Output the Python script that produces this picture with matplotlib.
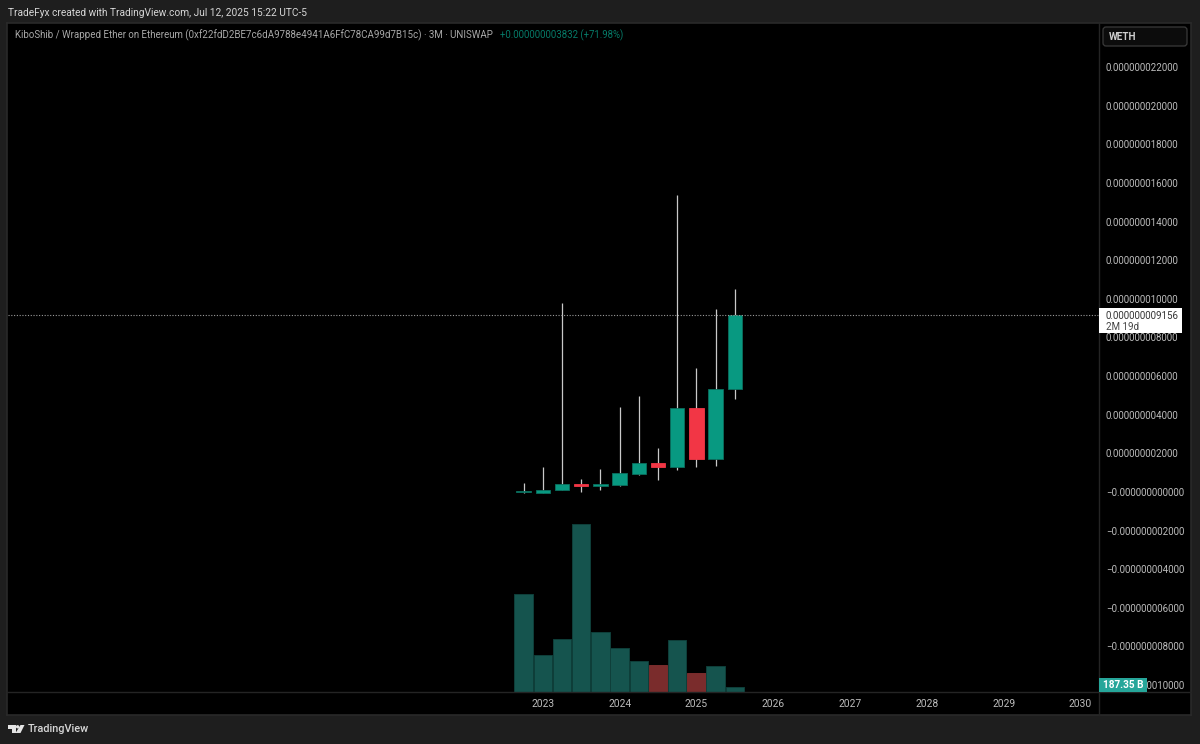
import matplotlib
matplotlib.use("Agg")
import matplotlib.pyplot as plt
from matplotlib.patches import Rectangle, FancyBboxPatch, Polygon, Circle
from matplotlib.ticker import FixedLocator, FixedFormatter

W, H = 1200, 744
BG = "#1e1e1e"
BORDER = "#2a2a2a"
DIVIDER = "#242424"
TXT = "#bcbcbc"
UP = "#089981"
DOWN = "#f23645"
VOL_UP = "#15544e"
VOL_DOWN = "#7a2c2c"

# values in units of 1e-9 WETH, per quarter
opens = [-0.02, -0.04, 0.08, 0.41, 0.31, 0.37, 0.94, 1.50, 1.31, 4.34, 1.72, 5.324]
closes = [0.00, 0.11, 0.41, 0.31, 0.41, 0.96, 1.48, 1.31, 4.34, 1.72, 5.324, 9.156]
highs = [0.45, 1.29, 9.77, 0.67, 1.19, 4.40, 4.97, 2.27, 15.37, 6.42, 9.46, 10.49]
lows = [-0.04, -0.04, 0.08, -0.01, 0.08, 0.32, 0.89, 0.62, 1.13, 1.31, 1.34, 4.80]
# volume in billions, with the colour direction as shown in the volume pane
volumes = [4350, 1640, 2340, 7450, 2640, 1940, 1370, 1180, 2300, 825, 1150, 187.35]
volume_up = [True, True, True, True, True, True, True, False, True, False, True, True]

price_ticks = [22, 20, 18, 16, 14, 12, 10, 8, 6, 4, 2, 0, -2, -4, -6, -8, -10]
price_labels = ["0.000000022000", "0.000000020000", "0.000000018000", "0.000000016000",
                "0.000000014000", "0.000000012000", "0.000000010000", "0.000000008000",
                "0.000000006000", "0.000000004000", "0.000000002000", "\u22120.000000000000",
                "\u22120.000000002000", "\u22120.000000004000", "\u22120.000000006000",
                "\u22120.000000008000", "\u22120.000000010000"]
year_ticks = [1, 5, 9, 13, 17, 21, 25, 29]
year_labels = ["2023", "2024", "2025", "2026", "2027", "2028", "2029", "2030"]
title_text = "KiboShib / Wrapped Ether on Ethereum (0xf22fdD2BE7c6dA9788e4941A6FfC78CA99d7B15c) \u00b7 3M \u00b7 UNISWAP"
change_text = "+0.000000003832 (+71.98%)"
header_text = "TradeFyx created with TradingView.com, Jul 12, 2025 15:22 UTC-5"

plt.rcParams["font.family"] = ["Roboto", "DejaVu Sans"]
fig = plt.figure(figsize=(W / 100, H / 100), dpi=100, facecolor=BG)

# pixel geometry of the plot pane
L, R, T, B = 8, 1098.5, 23.5, 691.5
PX_PER_UNIT = 19.31
ZERO_Y = 491.9
STEP = 19.2
X0 = 523.6

def axrect(l, r, t, b):
    return [l / W, 1 - b / H, (r - l) / W, (b - t) / H]

back = fig.add_axes(axrect(L - 1, 1190.5, T - 0.5, 714.5), facecolor="black")
back.set_xticks([]); back.set_yticks([])
for s in back.spines.values():
    s.set_color(BORDER); s.set_linewidth(1.2)

ax = fig.add_axes(axrect(L, R, T, B), facecolor="none")
ax.set_xlim((L - X0) / STEP, (R - X0) / STEP)
ax.set_ylim((ZERO_Y - B) / PX_PER_UNIT, (ZERO_Y - T) / PX_PER_UNIT)
for s in ax.spines.values():
    s.set_visible(False)

vol = fig.add_axes(axrect(L, R, T, B), facecolor="none", sharex=ax)
vol.set_ylim(0, (B - T) * 44.6)
vol.axis("off")

xs = list(range(len(opens)))
vol.bar(xs, volumes, width=0.96,
        color=[VOL_UP if u else VOL_DOWN for u in volume_up],
        edgecolor=["#0f3f3a" if u else VOL_DOWN for u in volume_up],
        linewidth=0.7, zorder=1)

can = fig.add_axes(axrect(L, R, T, B), facecolor="none", sharex=ax, sharey=ax)
can.axis("off")
can.vlines(xs, lows, highs, color="#c9c9c9", linewidth=0.9, zorder=2)
cols = [UP if c >= o else DOWN for o, c in zip(opens, closes)]
for x, o, c, col in zip(xs, opens, closes, cols):
    can.bar(x, max(abs(c - o), 0.05), bottom=min(o, c), width=0.74, color=col,
            edgecolor=("#0b6f5e" if col == UP else DOWN), linewidth=0.6, zorder=3)
can.axhline(closes[-1], color="#9a9a9a", linestyle=(0, (1, 1.5)), linewidth=0.8, zorder=4)

ax.yaxis.tick_right()
ax.yaxis.set_major_locator(FixedLocator(price_ticks))
ax.yaxis.set_major_formatter(FixedFormatter(price_labels))
ax.tick_params(axis="y", length=0, pad=5.4, labelsize=7.0, labelcolor=TXT)
for t in ax.get_yticklabels():
    t.set_ha("left")
ax.set_xticks(year_ticks)
ax.set_xticklabels(year_labels)
ax.tick_params(axis="x", length=0, pad=5.2, labelsize=7.4, labelcolor=TXT)

# chrome overlay in pixel coordinates
ov = fig.add_axes([0, 0, 1, 1], facecolor="none")
ov.set_xlim(0, W); ov.set_ylim(H, 0); ov.axis("off")
ov.plot([R, R], [T - 0.5, 714.5], color=DIVIDER, lw=1)
ov.plot([L - 1, 1190.5], [B, B], color=DIVIDER, lw=1)

ov.text(8, 12.7, header_text, color="#d6d6d6", fontsize=7.3, va="center", ha="left")
ov.text(15, 35.2, title_text, color="#a8a8a8", fontsize=7.05, va="center", ha="left")
ov.text(500, 35.2, change_text, color="#067a68", fontsize=6.95, va="center", ha="left")

ov.add_patch(FancyBboxPatch((1103, 27), 84, 19, boxstyle="round,pad=0,rounding_size=3",
                            fc="#0c0c0c", ec="#3a3a3a", lw=0.9))
ov.text(1109, 37.5, "WETH", color="#cfcfcf", fontsize=7.2, fontweight="bold", va="center", ha="left")

py = ZERO_Y - closes[-1] * PX_PER_UNIT
ov.add_patch(Rectangle((1099, py - 7), 83, 25, fc="white", ec="none", zorder=5))
ov.text(1106, py + 0.5, "0.000000009156", color="#333333", fontsize=7.0, va="center", ha="left", zorder=6)
ov.text(1106, py + 11.5, "2M 19d", color="#444444", fontsize=7.0, va="center", ha="left", zorder=6)

ov.add_patch(Rectangle((1099, 678), 48, 13.5, fc="#26a69a", ec="none", zorder=5))
ov.text(1123, 685, "187.35 B", color="white", fontsize=7.2, fontweight="bold", va="center", ha="center", zorder=6)

# TradingView logo
ov.add_patch(Polygon([(8, 725), (15.5, 725), (15.5, 733), (11.5, 733), (11.5, 728.5), (8, 728.5)], fc="#e4e4e4", ec="none"))
ov.add_patch(Circle((17.6, 726.8), 1.7, fc="#e4e4e4", ec="none"))
ov.add_patch(Polygon([(20.5, 725), (24.5, 725), (20.5, 733), (15.5, 733)], fc="#e4e4e4", ec="none"))
ov.text(28, 729.5, "TradingView", color="#d8d8d8", fontsize=7.8, fontweight="medium", va="center", ha="left")

fig.savefig("out.png", dpi=100, facecolor=BG)
